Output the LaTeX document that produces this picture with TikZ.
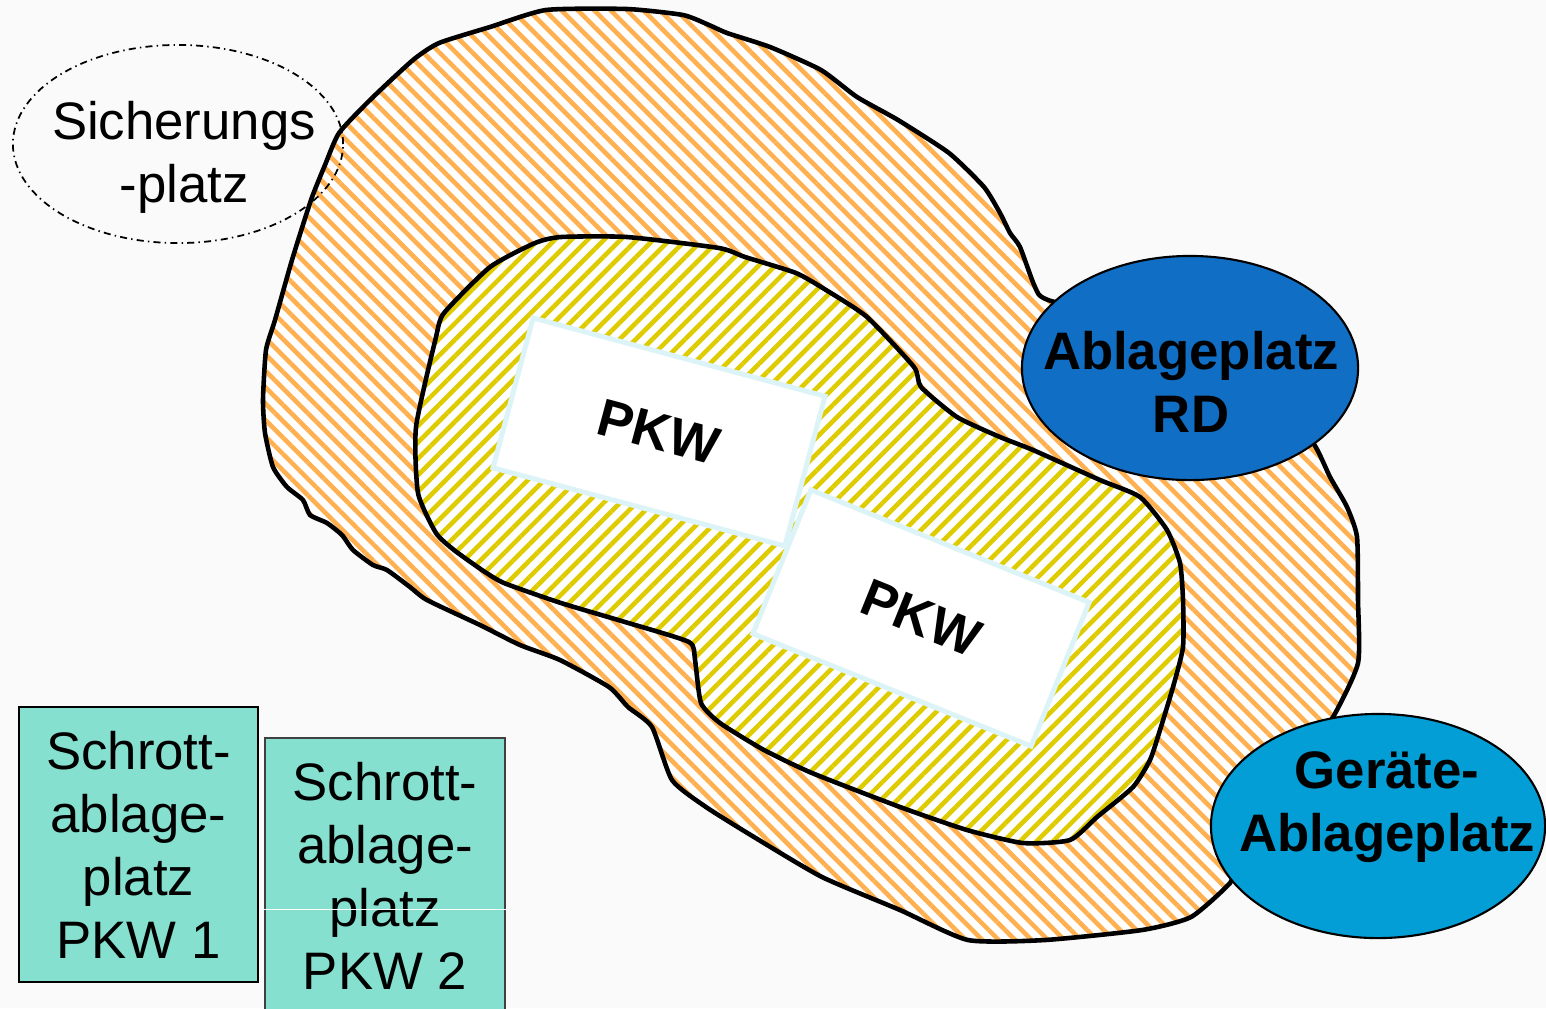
\documentclass[tikz,border=0pt]{standalone}
\usepackage{fontspec}
\setmainfont{Liberation Sans}
\usepackage{xcolor}
\usepackage{tikz}
\usetikzlibrary{shapes.geometric,patterns.meta}

\definecolor{stripeorange}{RGB}{255,176,80}
\definecolor{stripeyellow}{RGB}{222,204,0}
\definecolor{boxgreen}{RGB}{134,224,208}
\definecolor{rdblue}{RGB}{16,110,196}
\definecolor{toolblue}{RGB}{3,158,214}
\definecolor{carrim}{RGB}{220,243,247}
\definecolor{bggray}{RGB}{250,250,250}

\begin{document}
\begin{tikzpicture}[x=0.01cm,y=-0.01cm,
        zonetext/.style={font=\fontsize{15}{17.9}\selectfont, align=center, inner sep=0pt},
        boldtext/.style={font=\fontsize{15}{17.9}\selectfont\bfseries, align=center, inner sep=0pt},
        car/.style={draw=carrim, line width=1.4pt, fill=white, font=\fontsize{15}{17.9}\selectfont\bfseries, inner sep=0pt},
        place/.style={ellipse, draw=black, line width=0.6pt, inner sep=0pt},
        scrapbox/.style={draw, line width=0.6pt, fill=boxgreen, minimum width=2.39cm, minimum height=2.75cm, inner sep=0pt, font=\fontsize{15}{17.9}\selectfont, align=center}]
                % Page
                \fill[bggray] (0,0) rectangle (1546,1008);
                \useasboundingbox (0,0) rectangle (1546,1008);
                \clip (0,0) rectangle (1546,1008);

                % Outer zone (orange)
                \draw[line width=1.3pt, preaction={fill=white}, pattern={Lines[angle=-45,distance=3.3pt,line width=1.3pt]}, pattern color=stripeorange]
                    plot[smooth cycle, tension=0.35] coordinates {
                    (546,10) (627,9) (683,15) (709,25) (727,33) (770,47) (821,70) (857,97) (898,120) (949,153)
                    (984,187) (1000,213) (1010,233) (1020,247) (1035,287) (1048,300) (1150,330) (1280,420)
                    (1313,443) (1330,477) (1347,507) (1357,537) (1358,600) (1358,663) (1333,717) (1290,780)
                    (1240,860) (1230,883) (1191,917) (1142,930) (1045,940) (968,940) (900,910) (822,877)
                    (754,837) (706,807) (672,780) (652,727) (628,707) (609,687) (560,660) (520,645) (480,625)
                    (427,600) (410,587) (387,570) (373,565) (353,550) (342,535) (327,523) (310,515) (303,500)
                    (287,487) (273,467) (265,433) (263,400) (266,350) (275,320) (292,260) (311,200) (325,165)
                    (339,133) (370,100) (413,60) (439,43) (490,27)};

                % Inner zone (yellow)
                \draw[line width=1.3pt, preaction={fill=white}, pattern={Lines[angle=45,distance=3.3pt,line width=1.3pt]}, pattern color=stripeyellow]
                    plot[smooth cycle, tension=0.35] coordinates {
                    (444,313) (490,267) (535,243) (561,237) (627,237) (719,248) (745,257) (796,273) (826,290)
                    (867,317) (914,367) (921,387) (957,417) (1000,437) (1033,450) (1100,480) (1140,497)
                    (1167,530) (1180,563) (1183,600) (1183,647) (1173,687) (1160,730) (1150,760) (1133,787)
                    (1097,817) (1070,840) (1023,843) (967,830) (900,807) (812,773) (764,750) (720,723)
                    (701,703) (695,660) (689,642) (625,622) (561,603) (504,583) (482,570) (454,550) (436,533)
                    (418,493) (416,427) (436,337)};

                % Cars
                \node[car, rotate=-15, minimum width=3.02cm, minimum height=1.55cm] (pkwa) at (659,432) {PKW};
                \node[car, rotate=-22, minimum width=3.0cm, minimum height=1.55cm] (pkwb) at (921,618) {PKW};

                % Safety place
                \node[ellipse, draw=black, line width=0.5pt, dash pattern=on 2pt off 1.2pt on 0.4pt off 1.2pt, minimum width=3.3cm, minimum height=1.98cm] (sicher) at (178,144) {};
                \node[zonetext] (sichertext) at (184,157) {Sicherungs\\-platz};

                % Depot places
                \node[place, fill=rdblue, minimum width=3.36cm, minimum height=2.24cm] (ablagerd) at (1190,368) {};
                \node[boldtext] (ablagerdtext) at (1191,382) {Ablageplatz\\RD};
                \node[place, fill=toolblue, minimum width=3.34cm, minimum height=2.24cm] (geraete) at (1378,826) {};
                \node[boldtext] (geraetetext) at (1387,807) {Geräte-\\Ablageplatz};

                % Scrap places
                \node[scrapbox] (schrotta) at (138.5,844.5) {Schrott-\\ablage-\\platz\\PKW 1};
                \node[scrapbox, draw=black!75] (schrottb) at (385,875.5) {Schrott-\\ablage-\\platz\\PKW 2};
                \draw[white, line width=0.3pt] ([yshift=-0.34cm]schrottb.west) -- ([yshift=-0.34cm]schrottb.east);
            \end{tikzpicture}
\end{document}
